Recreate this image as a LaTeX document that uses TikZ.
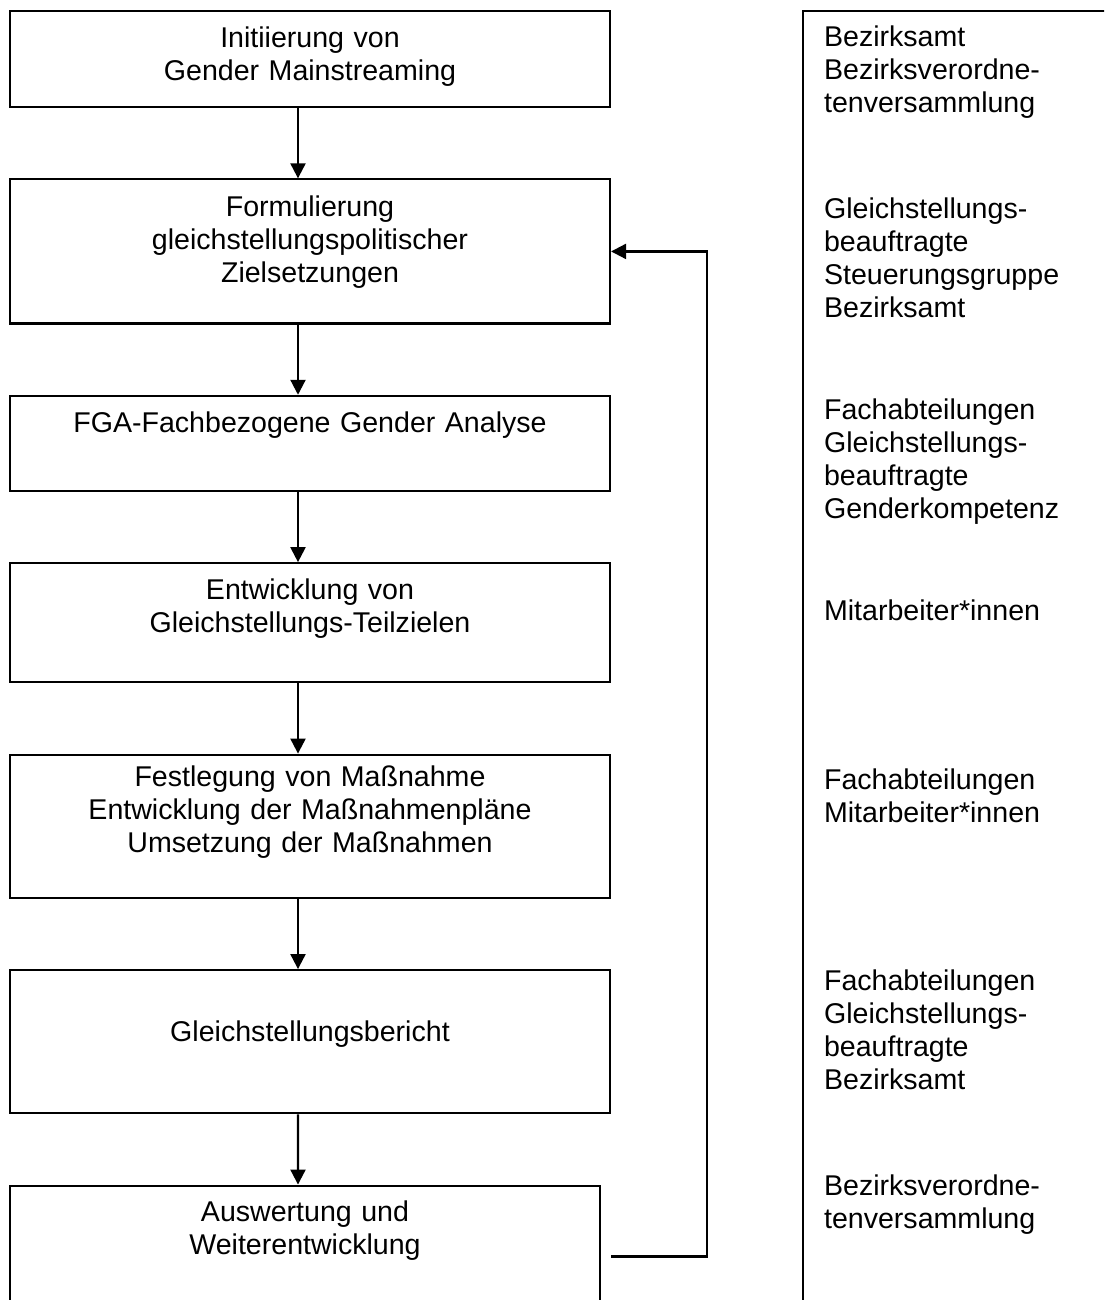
\documentclass[tikz,border=0pt]{standalone}
\usepackage{fontspec}
\setmainfont{Liberation Sans}
\usetikzlibrary{arrows.meta,positioning}

\begin{document}
\begin{tikzpicture}[x=0.42pt,y=-0.42pt,->,>={Triangle[length=6.3pt,width=6.3pt]},
  line width=0.9pt,node distance=29.5pt,font=\fontsize{12}{13.9}\selectfont,
  stage/.style={draw,text width=252pt,inner sep=0pt,align=center},
  role/.style={anchor=base west,text width=130pt,inner sep=0pt,align=left}]

  \useasboundingbox (0,0) rectangle (1104,1300);
  \clip (0,0) rectangle (1104,1300);

  \node[stage,text height=15.4pt,text depth=24.9pt,anchor=north] (init) at (310,10)
    {Initiierung von\\Gender Mainstreaming};
  \node[stage,text height=15.5pt,text depth=45pt,below=of init] (ziel)
    {Formulierung\\gleichstellungspolitischer\\Zielsetzungen};
  \node[stage,text height=15.4pt,text depth=24.5pt,below=of ziel] (fga)
    {FGA-Fachbezogene Gender Analyse};
  \node[stage,text height=15.1pt,text depth=34.9pt,below=of fga] (teilziel)
    {Entwicklung von\\Gleichstellungs-Teilzielen};
  \node[stage,text height=13.5pt,text depth=46.6pt,below=of teilziel] (massnahme)
    {Festlegung von Maßnahme\\Entwicklung der Maßnahmenpläne\\Umsetzung der Maßnahmen};
  \node[stage,text height=29.8pt,text depth=30.3pt,below=of massnahme] (bericht)
    {Gleichstellungsbericht};
  \node[stage,text width=247.8pt,text height=15.1pt,text depth=45pt,
    below=of bericht.south west,anchor=north west] (auswertung)
    {Auswertung und\\Weiterentwicklung};

  \foreach \a/\b in {init/ziel,ziel/fga,fga/teilziel,teilziel/massnahme,massnahme/bericht}
    \draw ([xshift=-5.04pt]\a.south) -- ([xshift=-5.04pt]\b.north);
  \draw ([xshift=-5.04pt]bericht.south) -- ([xshift=-2.94pt]auswertung.north);
  \draw ([shift={(4.2pt,-30.24pt)}]auswertung.north east) -- ++(40.32pt,0) |- (ziel.east);

  \node[draw,anchor=north west,inner sep=0pt,minimum width=135pt,minimum height=550pt]
    (roles) at (802,10) {};
  \node[role] (r1) at (823,46.7) {Bezirksamt\\Bezirksverordne-\\tenversammlung};
  \node[role] (r2) at (823,218) {Gleichstellungs-\\beauftragte\\Steuerungsgruppe\\Bezirksamt};
  \node[role] (r3) at (823,419) {Fachabteilungen\\Gleichstellungs-\\beauftragte\\Genderkompetenz};
  \node[role] (r4) at (823,620) {Mitarbeiter*innen};
  \node[role] (r5) at (823,789) {Fachabteilungen\\Mitarbeiter*innen};
  \node[role] (r6) at (823,990) {Fachabteilungen\\Gleichstellungs-\\beauftragte\\Bezirksamt};
  \node[role] (r7) at (823,1195) {Bezirksverordne-\\tenversammlung};

\end{tikzpicture}
\end{document}
